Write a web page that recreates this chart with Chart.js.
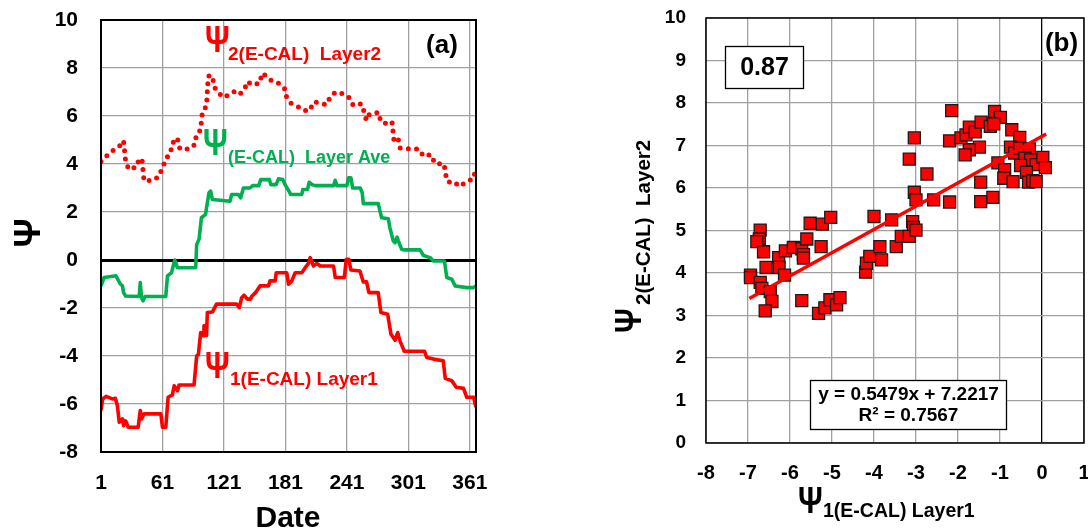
<!DOCTYPE html>
<html lang="en">
<head>
<meta charset="UTF-8" />
<title>Psi E-CAL layers</title>
<script src="https://cdn.jsdelivr.net/npm/chart.js"></script>
<style>
  body { margin: 0; background: #fff; width: 1088px; height: 530px; overflow: hidden; position: relative; }
  canvas { position: absolute; top: 0; }
  #left { left: 0; }
  #right { left: 600px; }
</style>
</head>
<body>
<canvas id="left" width="540" height="530"></canvas>
<canvas id="right" width="488" height="530"></canvas>
<script>
// ---- data ----
// panel (a): [day, psi]
const layer1 = [[1,-6.27],[2.6,-5.79],[6,-5.68],[12,-5.79],[15,-5.76],[17,-6.07],[18.8,-6.76],[22,-6.62],[23,-6.9],[25,-6.7],[27.6,-6.97],[37.3,-6.97],[39.3,-6.27],[40.6,-6.62],[43,-6.41],[59.4,-6.41],[61,-6.97],[64.2,-6.97],[66.5,-5.72],[70.7,-5.62],[72.4,-5.24],[75.6,-5.45],[77.2,-5.21],[91.8,-5.21],[94.4,-3.99],[96,-3.95],[98.3,-3.02],[100.9,-3.16],[101.5,-2.74],[103,-2.74],[104,-3.14],[104.8,-2.19],[109.7,-2.17],[113.7,-1.84],[133.4,-1.84],[136,-1.98],[138.3,-1.57],[140.6,-1.47],[143.8,-1.63],[147,-1.63],[148,-1.52],[152,-1.35],[156.2,-1.08],[164.4,-1.08],[166,-0.87],[171,-0.87],[172,-0.53],[182.3,-0.53],[184,-1.01],[187.2,-0.87],[190.5,-0.53],[197,-0.53],[200.3,-0.32],[203.5,-0.14],[205.2,0.1],[208.4,-0.25],[211.7,-0.14],[215,-0.25],[228,-0.25],[229.6,-0.73],[238.5,-0.73],[240.4,0.03],[242.9,0.03],[244.9,-0.42],[253.7,-0.46],[257,-0.91],[260.2,-0.91],[262.5,-1.36],[271.6,-1.36],[274.2,-2.19],[280.8,-2.26],[284,-3.09],[288,-3.34],[290.6,-3.02],[292.8,-3.37],[297,-3.8],[316.7,-3.8],[318.9,-4.06],[325.5,-4.13],[335,-4.2],[337,-4.93],[343.4,-5.03],[347.7,-5.3],[354.8,-5.35],[358,-5.72],[364.6,-5.72],[367,-6.14]];

const layerAve = [[1,-1.08],[4,-0.73],[15.6,-0.66],[19.8,-1.0],[22,-1.08],[23,-1.36],[25,-1.5],[38.3,-1.52],[39.3,-0.94],[40.6,-1.56],[42,-1.7],[44,-1.52],[64.2,-1.52],[65.9,-0.66],[69.8,-0.53],[73,0.0],[75.6,-0.32],[93.4,-0.32],[94.4,0.65],[96.7,0.86],[99,1.76],[103,1.9],[106.4,2.8],[108,2.87],[109.7,2.52],[126.9,2.45],[128.5,2.73],[135,2.73],[137.3,2.59],[140,3.0],[146.4,3.0],[149,3.1],[155,3.1],[156.9,3.35],[165.4,3.35],[166.7,3.14],[171.9,3.14],[174.2,3.38],[178.4,3.35],[180.7,3.14],[185,2.83],[186,2.73],[197,2.73],[198,2.94],[202.6,2.94],[204.2,3.24],[207,3.14],[210,3.1],[228,3.1],[229.6,3.32],[231.3,3.1],[241,3.1],[242.7,3.42],[245,3.42],[246.5,3.0],[254,3.0],[256,2.8],[257,2.35],[271.6,2.35],[273.3,2.04],[274.9,1.76],[281.4,1.72],[283,1.34],[286.3,0.79],[288,0.72],[290,0.95],[291.2,0.8],[294.5,0.44],[297.7,0.42],[312.4,0.42],[315.7,0.19],[322.2,0.1],[325.5,-0.04],[336.2,-0.04],[338.5,-0.73],[343.4,-0.8],[346.7,-1.08],[358,-1.15],[364.6,-1.15],[367,-1.08]];

const layer2 = [[1,4.1],[7,4.35],[13,4.57],[19,4.74],[23,4.97],[25,4.14],[28,3.78],[36,3.88],[38,4.22],[41,4.18],[43,3.3],[52,3.32],[58,3.5],[61,3.91],[65,4.16],[67,4.49],[71,4.67],[72,5.07],[76,5.0],[78,4.63],[88,4.63],[93,4.83],[94,5.24],[98,5.4],[99,5.76],[100,6.18],[104,6.41],[105,7.23],[106,7.67],[110,7.67],[111,7.26],[115,6.99],[121,6.77],[128,6.95],[133,7.06],[137,6.93],[141,7.12],[144,7.44],[148,7.3],[156,7.37],[158,7.78],[164,7.62],[168,7.44],[174,7.37],[180,7.16],[182,6.81],[186,6.54],[193,6.4],[199,6.23],[205,6.23],[208,6.57],[212,6.57],[221,6.47],[225,6.81],[230,7.0],[239,6.9],[245,6.7],[247,6.45],[255,6.51],[258,6.15],[260,5.82],[263,6.08],[272,6.15],[274,5.76],[281,5.66],[285,5.75],[286,5.36],[287,4.95],[291,5.06],[293,4.67],[301,4.63],[311,4.63],[316,4.32],[323,4.39],[327,4.02],[336,4.0],[337,3.6],[340,3.24],[345,3.27],[351,3.06],[357,3.24],[365,3.4],[366,3.77]];

const dateTicks = [1, 61, 121, 181, 241, 301, 361];
const psiTicks = [-8, -6, -4, -2, 0, 2, 4, 6, 8, 10];

// panel (b): [psi1 layer1, psi2 layer2]
const scatterPts = [[-6.94,3.95],[-6.94,3.89],[-6.71,5.01],[-6.73,4.8],[-6.79,4.74],[-6.63,4.5],[-6.57,4.13],[-6.71,3.78],[-6.67,3.64],[-6.47,3.56],[-6.43,3.33],[-6.59,3.11],[-6.27,4.36],[-6.26,4.13],[-6.13,3.95],[-6.11,4.52],[-5.92,4.6],[-5.72,4.57],[-5.68,4.43],[-5.68,4.35],[-5.6,4.8],[-5.52,5.17],[-5.23,5.15],[-5.03,5.31],[-5.26,4.62],[-5.72,3.35],[-5.32,3.05],[-5.17,3.18],[-5.05,3.37],[-4.89,3.25],[-4.81,3.42],[-4.0,5.33],[-3.58,5.25],[-4.2,4.02],[-4.18,4.23],[-4.1,4.39],[-3.86,4.62],[-3.82,4.31],[-3.47,4.62],[-3.35,4.86],
  [-2.15,7.82],[-3.04,7.18],[-3.16,6.68],[-2.2,7.11],[-1.93,7.18],[-1.81,7.25],[-1.73,7.43],[-1.59,7.32],[-1.45,7.55],[-1.23,7.45],[-1.13,7.8],[-0.99,7.66],[-1.15,7.51],[-1.49,6.96],[-1.73,6.9],[-1.83,6.78],[-0.72,7.37],[-0.53,7.19],[-0.75,6.96],[-0.65,6.82],[-0.53,6.94],[-0.3,6.92],[-0.41,6.7],[-0.27,6.66],[-0.51,6.53],[-0.14,6.55],[0.02,6.72],[0.08,6.48],[-1.05,6.59],[-0.89,6.43],[-0.91,6.23],[-0.69,6.15],[-0.37,6.37],[-0.32,6.14],[-0.22,6.17],[-0.14,6.15],[-2.74,6.33],[-1.46,6.14],[-3.04,5.9],[-3.0,5.72],[-2.58,5.72],[-2.2,5.67],[-1.46,5.68],[-1.17,5.78],[-3.08,5.21],[-3.06,5.07],[-3.16,4.86],[-3.0,5.01]];
const trendLine = [[-6.97,3.40],[0.10,7.27]];
const scatterXTicks = [-8, -7, -6, -5, -4, -3, -2, -1, 0, 1];
const scatterYTicks = [0, 1, 2, 3, 4, 5, 6, 7, 8, 9, 10];

const FONT = '"Liberation Sans", Arial, sans-serif';
const RED = '#ff0000';
const GREEN = '#00b050';
const GRID = '#a0a0a0';

const toXY = (arr) => arr.map((p) => ({ x: p[0], y: p[1] }));
const fixTicks = (list) => (scale) => { scale.ticks = list.map((v) => ({ value: v })); };

// big Psi, then a subscript starting subX further along (optionally rotated)
function psiLabel(ctx, x, y, sub, color, psiPx, subPx, subX, subDy, rot) {
  ctx.save();
  ctx.translate(x, y);
  if (rot) ctx.rotate(rot);
  ctx.fillStyle = color;
  ctx.textAlign = 'left';
  ctx.textBaseline = 'alphabetic';
  ctx.font = `bold ${psiPx}px ${FONT}`;
  ctx.save();
  ctx.scale(0.85, 1);
  ctx.fillText('Ψ', 0, 0);
  ctx.restore();
  ctx.font = `bold ${subPx}px ${FONT}`;
  ctx.fillText(sub, subX, subDy);
  ctx.restore();
}

function frame(chart, width) {
  const a = chart.chartArea;
  const ctx = chart.ctx;
  ctx.save();
  ctx.strokeStyle = '#000';
  ctx.lineWidth = width;
  ctx.strokeRect(a.left, a.top, a.right - a.left, a.bottom - a.top);
  ctx.restore();
}

// ---- panel (a) ----
const leftText = {
  id: 'leftText',
  afterDraw(chart) {
    const ctx = chart.ctx;
    frame(chart, 2);
    ctx.save();
    ctx.fillStyle = '#000';
    ctx.textAlign = 'center';
    ctx.textBaseline = 'middle';
    ctx.font = `bold 26px ${FONT}`;
    ctx.fillText('(a)', 442, 46);
    ctx.textBaseline = 'alphabetic';
    ctx.font = `bold 30px ${FONT}`;
    ctx.fillText('Date', 288, 527);
    ctx.translate(40, 233);
    ctx.rotate(-Math.PI / 2);
    ctx.font = `bold 36px ${FONT}`;
    ctx.fillText('Ψ', 0, 0);
    ctx.restore();
    psiLabel(ctx, 205, 52, '2(E-CAL)  Layer2', RED, 36, 19, 23, 8);
    psiLabel(ctx, 203, 155, '(E-CAL)  Layer Ave', GREEN, 36, 18, 25, 8);
    psiLabel(ctx, 205, 378, '1(E-CAL) Layer1', RED, 36, 19, 25, 7);
  }
};

new Chart(document.getElementById('left'), {
  type: 'line',
  data: {
    datasets: [
      { data: toXY(layer2), borderColor: RED, borderWidth: 5, borderDash: [0, 8.2], borderCapStyle: 'round', borderJoinStyle: 'round', pointRadius: 0, tension: 0 },
      { data: toXY(layerAve), borderColor: GREEN, borderWidth: 3.6, pointRadius: 0, tension: 0, borderJoinStyle: 'round' },
      { data: toXY(layer1), borderColor: RED, borderWidth: 3.6, pointRadius: 0, tension: 0, borderJoinStyle: 'round' }
    ]
  },
  options: {
    responsive: false,
    devicePixelRatio: 1,
    animation: false,
    layout: { autoPadding: false, padding: { left: 0, top: 20, right: 64, bottom: 0 } },
    plugins: { legend: { display: false }, tooltip: { enabled: false } },
    scales: {
      x: {
        type: 'linear', min: 1, max: 367,
        afterBuildTicks: fixTicks(dateTicks),
        afterFit: (s) => { s.height = 78; s.paddingLeft = 0; s.paddingRight = 0; },
        grid: { color: GRID, lineWidth: 1.3, drawTicks: false },
        border: { display: false },
        ticks: { padding: 19, color: '#000', font: { family: FONT, size: 21, weight: 'bold' } }
      },
      y: {
        type: 'linear', min: -8, max: 10,
        afterBuildTicks: fixTicks(psiTicks),
        afterFit: (s) => { s.width = 101; s.paddingTop = 0; s.paddingBottom = 0; },
        grid: {
          color: (c) => (c.tick && c.tick.value === 0 ? '#000' : GRID),
          lineWidth: (c) => (c.tick && c.tick.value === 0 ? 3 : 1.3),
          drawTicks: false
        },
        border: { display: false },
        ticks: { padding: 23, color: '#000', font: { family: FONT, size: 21, weight: 'bold' } }
      }
    }
  },
  plugins: [leftText]
});

// ---- panel (b) ----
const rightText = {
  id: 'rightText',
  afterDraw(chart) {
    const ctx = chart.ctx;
    frame(chart, 1.5);
    ctx.save();
    ctx.strokeStyle = '#000';
    ctx.lineWidth = 1.3;
    ctx.fillStyle = '#fff';
    ctx.fillRect(125.5, 46.5, 78, 42);
    ctx.strokeRect(125.5, 46.5, 78, 42);
    ctx.fillRect(210.5, 380.5, 196, 49);
    ctx.strokeRect(210.5, 380.5, 196, 49);
    ctx.fillStyle = '#000';
    ctx.textAlign = 'center';
    ctx.textBaseline = 'middle';
    ctx.font = `bold 25px ${FONT}`;
    ctx.fillText('0.87', 164.5, 68);
    ctx.font = `bold 26px ${FONT}`;
    ctx.fillText('(b)', 461.5, 44);
    ctx.font = `bold 19px ${FONT}`;
    ctx.fillText('y = 0.5479x + 7.2217', 308.5, 395);
    ctx.fillText('R² = 0.7567', 308.5, 416);
    ctx.restore();
    psiLabel(ctx, 198, 513, '1(E-CAL) Layer1', '#000', 36, 19.5, 25, 4);
    psiLabel(ctx, 41, 333, '2(E-CAL)  Layer2', '#000', 36, 20.5, 28, 9, -Math.PI / 2);
  }
};

new Chart(document.getElementById('right'), {
  type: 'scatter',
  data: {
    datasets: [
      { type: 'line', data: toXY(trendLine), borderColor: RED, borderWidth: 3.5, pointRadius: 0, order: 0 },
      { data: toXY(scatterPts), pointStyle: 'rect', pointRadius: 8.5, backgroundColor: RED, borderColor: '#1a1a1a', borderWidth: 1.3, order: 1 }
    ]
  },
  options: {
    responsive: false,
    devicePixelRatio: 1,
    animation: false,
    layout: { autoPadding: false, padding: { left: 0, top: 18, right: 4, bottom: 0 } },
    plugins: { legend: { display: false }, tooltip: { enabled: false } },
    scales: {
      x: {
        type: 'linear', min: -8, max: 1,
        afterBuildTicks: fixTicks(scatterXTicks),
        afterFit: (s) => { s.height = 87; s.paddingLeft = 0; s.paddingRight = 0; },
        grid: {
          color: (c) => (c.tick && c.tick.value === 0 ? '#000' : GRID),
          lineWidth: 1.3,
          drawTicks: false
        },
        border: { display: false },
        ticks: { padding: 18, color: '#000', font: { family: FONT, size: 20, weight: 'bold' } }
      },
      y: {
        type: 'linear', min: 0, max: 10,
        afterBuildTicks: fixTicks(scatterYTicks),
        afterFit: (s) => { s.width = 106; s.paddingTop = 0; s.paddingBottom = 0; },
        grid: { color: GRID, lineWidth: 1.3, drawTicks: false },
        border: { display: false },
        ticks: { padding: 20, color: '#000', font: { family: FONT, size: 19, weight: 'bold' } }
      }
    }
  },
  plugins: [rightText]
});
</script>
</body>
</html>
